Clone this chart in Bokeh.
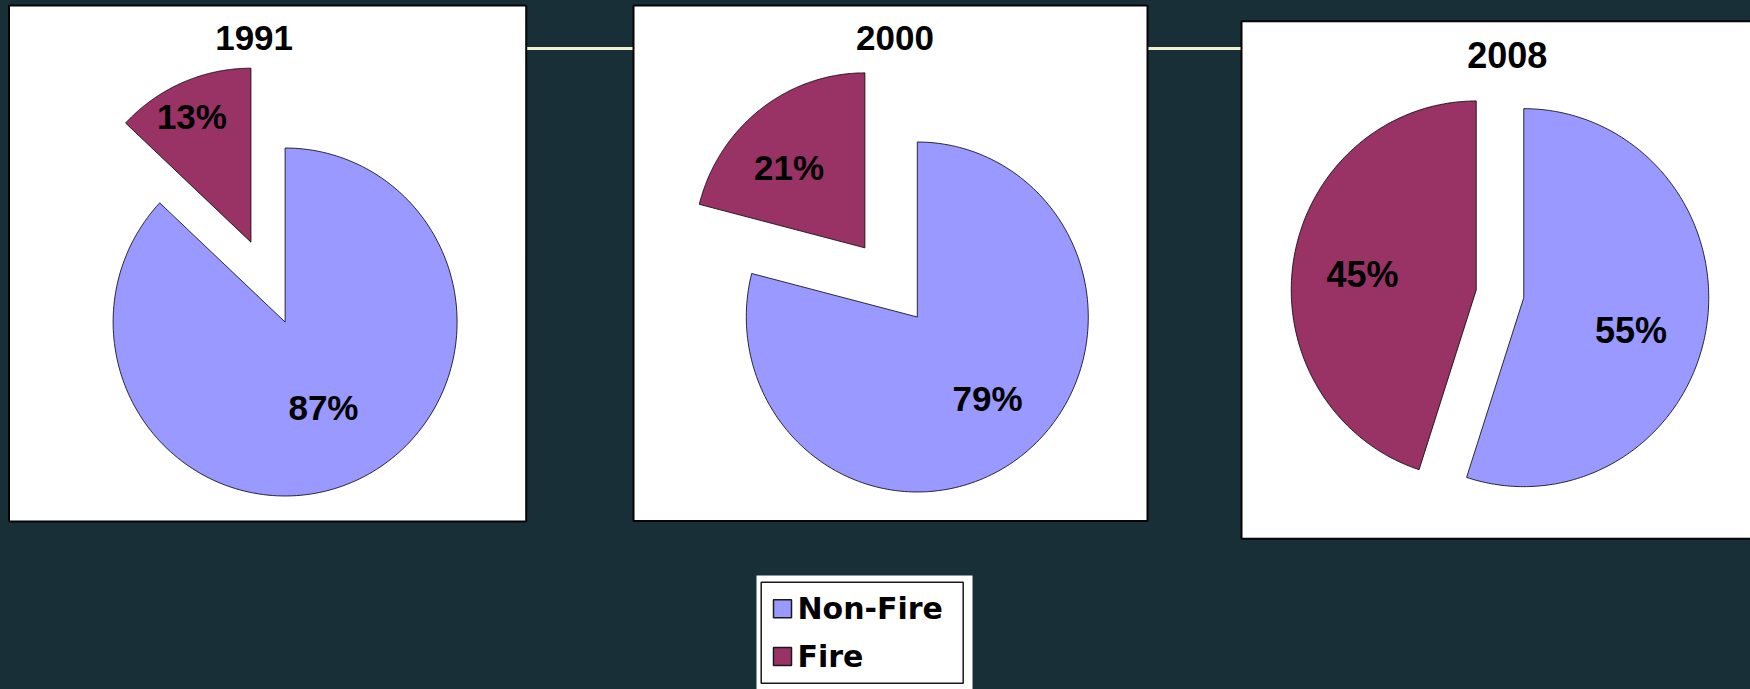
import numpy as np
from bokeh.plotting import figure
from bokeh.models import Range1d, ColumnDataSource, GlobalInlineStyleSheet
from bokeh.core.properties import value
from bokeh.embed import file_html
from bokeh.resources import INLINE

# ---------------- data ----------------
years = ["1991", "2000", "2008"]
categories = ["Non-Fire", "Fire"]
non_fire_pct = [87, 79, 55]
fire_pct = [13, 21, 45]
colors = ["#9999FF", "#993366"]

# ---------------- layout (window pixel coordinates) ----------------
BG = "#192f37"
panel_boxes = [(8.5, 5, 525.7, 521), (633, 5, 1147, 520.5), (1241, 20.7, 1765, 538.3)]
title_pos = [(253.6, 37.7), (894.5, 37.7), (1506.7, 54)]
pie_center = [(284.6, 321.5), (916.8, 316.5), (1499.5, 293.3)]
pie_radii = [(172, 174), (171, 175), (185, 189)]
explode = [(0.0, 0.5), (0.0, 0.5), (0.13, 0.13)]
label_r = [(0.54, 0.80), (0.62, 0.64), (0.605, 0.62)]
label_dang = [(1.0, 2.0), (3.7, 6.0), (-7.7, 1.6)]
font_px = ["35px", "35px", "36px"]
rule_y = 48

legend_box = (756, 575, 972, 700)
legend_frame = (760.7, 581.7, 962.7, 682.7)
legend_sq_x = 782
legend_row_y = [608.3, 656]
legend_text_x = 797

p = figure(width=1750, height=689,
           x_range=Range1d(0, 1750), y_range=Range1d(689, 0),
           x_axis_type=None, y_axis_type=None,
           output_backend="svg", toolbar_location=None, min_border=0,
           background_fill_color=BG, border_fill_color=BG,
           outline_line_color=None)
p.grid.visible = False
p.stylesheets = [GlobalInlineStyleSheet(css="html, body { background-color: #192f37; overflow: hidden; }")]

# decorative cream rule running between the panels (behind them)
p.segment(x0=[panel_boxes[0][2]], y0=[rule_y], x1=[panel_boxes[-1][0]], y1=[rule_y],
          line_color="#f2f2cc", line_width=3)

# white panels
p.quad(left=[b[0] for b in panel_boxes], right=[b[2] for b in panel_boxes],
       top=[b[1] for b in panel_boxes], bottom=[b[3] for b in panel_boxes],
       fill_color="white", line_color="#050505", line_width=2)

# pie slices (elliptical wedges computed from the percentages)
xs, ys, fills = [], [], []
lab_x, lab_y, lab_t, lab_s = [], [], [], []
for i in range(len(years)):
    vals = [non_fire_pct[i], fire_pct[i]]
    total = float(sum(vals))
    cx, cy = pie_center[i]
    rx, ry = pie_radii[i]
    start = np.pi / 2
    cum = 0.0
    for j, v in enumerate(vals):
        a0 = start - 2 * np.pi * cum / total
        a1 = a0 - 2 * np.pi * v / total
        mid = (a0 + a1) / 2
        d = explode[i][j]
        ax = cx + d * rx * np.cos(mid)
        ay = cy - d * ry * np.sin(mid)
        t = np.linspace(a0, a1, 200)
        px = np.concatenate([[ax], ax + rx * np.cos(t)])
        py = np.concatenate([[ay], ay - ry * np.sin(t)])
        xs.append(px.tolist())
        ys.append(py.tolist())
        fills.append(colors[j])
        la = mid + np.deg2rad(label_dang[i][j])
        lr = label_r[i][j]
        lab_x.append(ax + lr * rx * np.cos(la))
        lab_y.append(ay - lr * ry * np.sin(la))
        lab_t.append(f"{v}%")
        lab_s.append(font_px[i])
        cum += v

p.patches(xs=xs, ys=ys, fill_color=fills, line_color="black", line_width=0.8)

lab_src = ColumnDataSource(dict(x=lab_x, y=lab_y, text=lab_t, size=lab_s))
p.text(x="x", y="y", text="text", source=lab_src, text_font=value("Liberation Sans"),
       text_font_style="bold", text_font_size="size", text_align="center",
       text_baseline="middle", text_color="black")

title_src = ColumnDataSource(dict(x=[t[0] for t in title_pos], y=[t[1] for t in title_pos],
                                  text=years, size=font_px))
p.text(x="x", y="y", text="text", source=title_src, text_font=value("Liberation Sans"),
       text_font_style="bold", text_font_size="size", text_align="center",
       text_baseline="middle", text_color="black")

# legend
p.quad(left=[legend_box[0]], right=[legend_box[2]], top=[legend_box[1]], bottom=[legend_box[3]],
       fill_color="white", line_color=None)
p.quad(left=[legend_frame[0]], right=[legend_frame[2]], top=[legend_frame[1]],
       bottom=[legend_frame[3]], fill_color=None, line_color="#1a1a1a", line_width=1.5)
p.rect(x=[legend_sq_x] * len(categories), y=legend_row_y, width=18, height=18,
       fill_color=colors, line_color="#1a1a1a", line_width=1.5)
p.text(x=[legend_text_x] * len(categories), y=legend_row_y, text=categories,
       text_font=value("DejaVu Sans"), text_font_style="bold", text_font_size="30px",
       text_align="left", text_baseline="middle", text_color="black")

open("out.html", "w").write(file_html(p, INLINE))
